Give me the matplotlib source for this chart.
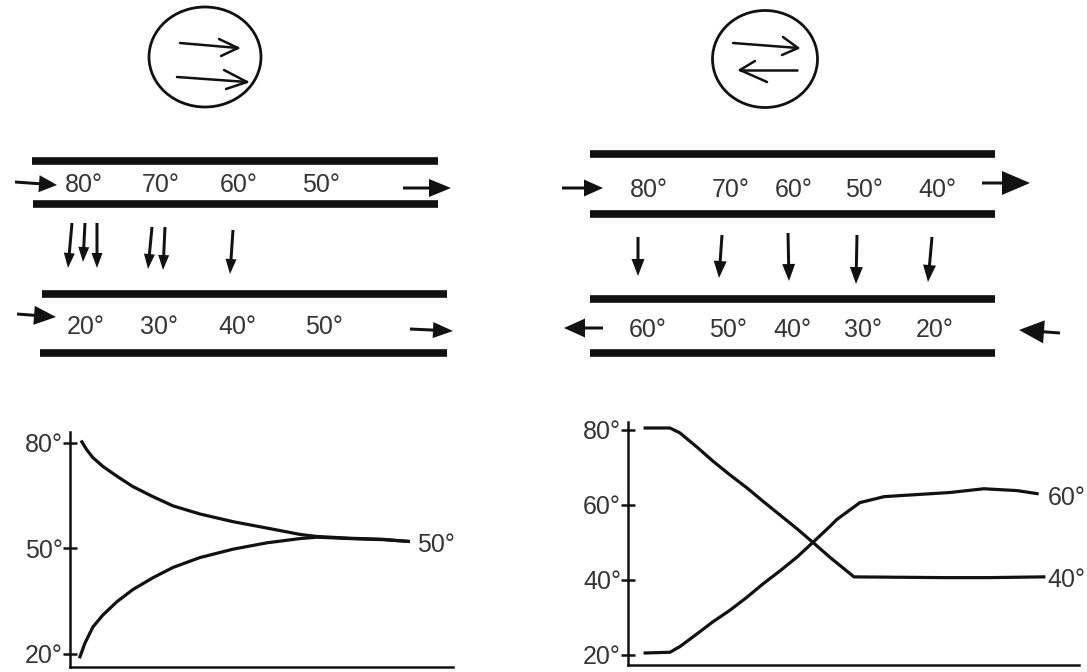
import matplotlib
matplotlib.use("Agg")
import matplotlib.pyplot as plt
from matplotlib.patches import Ellipse

plt.rcParams['font.family'] = ['Liberation Sans', 'DejaVu Sans']

# ---------------- data ----------------
# concurrent (left) tube temperatures
left_top_temps = ["80°", "70°", "60°", "50°"]
left_bottom_temps = ["20°", "30°", "40°", "50°"]
# countercurrent (right) tube temperatures
right_top_temps = ["80°", "70°", "60°", "50°", "40°"]
right_bottom_temps = ["60°", "50°", "40°", "30°", "20°"]

# left graph: concurrent exchange curves (position along tube, temperature)
left_pos_hot = [3.1, 4.4, 6.0, 8.6, 12.3, 16.4, 21.7, 26.9, 33.9, 42.6, 51.4, 60.0, 64.5, 73.1, 81.7, 88.3]
left_hot = [80.3, 78.0, 75.8, 73.3, 70.5, 67.6, 64.7, 62.1, 59.8, 57.6, 55.8, 54.0, 53.4, 52.9, 52.6, 52.0]
left_pos_cold = [2.6, 3.9, 6.0, 8.6, 12.3, 16.4, 21.7, 26.9, 33.9, 42.6, 51.4, 60.0, 64.5, 73.1, 81.7, 88.3]
left_cold = [19.2, 23.1, 27.7, 31.1, 34.9, 38.3, 41.7, 44.6, 47.4, 49.8, 51.6, 52.8, 53.2, 52.8, 52.5, 52.0]
left_ticks = [20, 50, 80]
left_end_label = "50°"

# right graph: countercurrent exchange curves
right_pos_hot = [3.8, 9.3, 11.5, 15.3, 18.8, 22.6, 26.4, 29.9, 33.7, 37.5, 41.0, 44.8, 50.1, 60.0, 70.0, 80.0, 92.2]
right_hot = [80.5, 80.5, 79.2, 75.4, 71.7, 68.0, 64.5, 61.0, 57.3, 53.6, 50.0, 46.0, 40.8, 40.7, 40.6, 40.6, 40.8]
right_pos_cold = [3.8, 9.3, 11.5, 15.3, 18.8, 22.6, 26.4, 29.9, 33.7, 37.5, 41.0, 44.8, 46.3, 51.4, 56.8, 71.4, 78.9, 86.3, 90.7]
right_cold = [20.5, 20.7, 22.2, 25.6, 28.8, 31.9, 35.4, 38.9, 42.4, 46.1, 50.0, 54.3, 56.1, 60.6, 62.2, 63.3, 64.3, 63.8, 63.0]
right_ticks = [20, 40, 60, 80]
right_end_labels = ["60°", "40°"]

# ---------------- layout ----------------
W, H = 1087, 672
INK = '#111111'
TXT = '#353535'
FS = 18

fig = plt.figure(figsize=(W / 100, H / 100), dpi=100)
ax0 = fig.add_axes([0, 0, 1, 1])
ax0.set_xlim(0, W)
ax0.set_ylim(H, 0)
ax0.axis('off')


def seg(p, q, lw=1.8):
    ax0.plot([p[0], q[0]], [p[1], q[1]], color=INK, lw=lw, solid_capstyle='round')


def arrow(tail, tip, hw=17, hl=18, w=3):
    ax0.arrow(tail[0], tail[1], tip[0] - tail[0], tip[1] - tail[1], width=w,
              head_width=hw, head_length=hl, length_includes_head=True,
              color=INK, lw=0)


def open_arrow(tail, tip, up, down, lw=1.8):
    seg(tail, tip, lw)
    seg(up, tip, lw)
    seg(down, tip, lw)


# symbol circles
ax0.add_patch(Ellipse((205, 57), 112, 100, fill=False, lw=2.0, ec=INK))
open_arrow((180, 43), (238, 48), (219, 39), (221, 56))
open_arrow((177, 77), (247, 82), (224, 70), (226, 89))
ax0.add_patch(Ellipse((765, 59), 105, 97, fill=False, lw=2.0, ec=INK))
open_arrow((733, 43), (798, 48), (783, 37), (782, 55))
open_arrow((797, 70), (740, 70), (755, 61), (767, 82))

# tubes (left)
for (x0, x1, y) in [(32, 438, 161), (33, 438, 204), (42, 447, 294), (40, 447, 353)]:
    ax0.plot([x0, x1], [y, y], color=INK, lw=5.5, solid_capstyle='butt')
# tubes (right)
for (x0, x1, y) in [(590, 995, 154), (590, 995, 214), (590, 995, 299), (590, 995, 353)]:
    ax0.plot([x0, x1], [y, y], color=INK, lw=5.5, solid_capstyle='butt')

# tube labels
for lab, x in zip(left_top_temps, [84, 161, 239, 321]):
    ax0.text(x, 185, lab, fontsize=FS, color=TXT, ha='center', va='center')
for lab, x in zip(left_bottom_temps, [86, 159, 237, 324]):
    ax0.text(x, 327, lab, fontsize=FS, color=TXT, ha='center', va='center')
for lab, x in zip(right_top_temps, [649, 731, 794, 864, 937]):
    ax0.text(x, 190, lab, fontsize=FS, color=TXT, ha='center', va='center')
for lab, x in zip(right_bottom_temps, [648, 728, 792, 863, 935]):
    ax0.text(x, 330, lab, fontsize=FS, color=TXT, ha='center', va='center')

# flow arrows (left)
arrow((15, 182), (57, 185))
arrow((403, 188), (451, 188), hw=18, hl=22)
arrow((17, 314), (56, 317), hw=19, hl=22)
arrow((410, 329), (453, 331), hw=16, hl=20)
# flow arrows (right)
arrow((562, 188), (603, 188), hw=17, hl=19)
arrow((982, 183), (1030, 183), hw=24, hl=28)
arrow((603, 328), (564, 328), hw=19, hl=21)
arrow((1060, 333), (1019, 330), hw=23, hl=25)

# transfer arrows (left)
for (xt, yt, xb, yb) in [(72, 223, 68, 268), (85, 223, 83, 262), (97, 223, 97, 268),
                         (152, 227, 148, 269), (165, 227, 163, 270), (233, 230, 230, 274)]:
    arrow((xt, yt), (xb, yb), hw=11, hl=15, w=3)
# transfer arrows (right)
for (xt, yt, xb, yb) in [(638, 237, 638, 276), (722, 235, 719, 278), (788, 233, 789, 281),
                         (857, 235, 856, 284), (932, 237, 928, 282)]:
    arrow((xt, yt), (xb, yb), hw=13, hl=17, w=3)


# ---------------- graphs ----------------
def style_graph(ax, ticks):
    for s in ['top', 'right']:
        ax.spines[s].set_visible(False)
    for s in ['left', 'bottom']:
        ax.spines[s].set_linewidth(1.8)
        ax.spines[s].set_color(INK)
    ax.set_xticks([])
    ax.set_yticks(ticks)
    ax.set_yticklabels([f"{t}°" for t in ticks])
    ax.tick_params(axis='y', direction='inout', length=10, width=1.8, pad=0,
                   labelsize=FS, labelcolor=TXT, color=INK)
    ax.patch.set_alpha(0)


axL = fig.add_axes([70 / W, (H - 667) / H, 383 / W, 235 / H])
axL.plot(left_pos_hot, left_hot, color=INK, lw=2.3, solid_joinstyle='round')
axL.plot(left_pos_cold, left_cold, color=INK, lw=2.3, solid_joinstyle='round')
axL.set_xlim(0, 100)
axL.set_ylim(16.3, 83.1)
style_graph(axL, left_ticks)
axL.text(90.6, 51.0, left_end_label, fontsize=FS, color=TXT, ha='left', va='center')

axR = fig.add_axes([628 / W, (H - 665) / H, 451 / W, 243 / H])
axR.plot(right_pos_hot, right_hot, color=INK, lw=2.3, solid_joinstyle='round')
axR.plot(right_pos_cold, right_cold, color=INK, lw=2.3, solid_joinstyle='round')
axR.set_xlim(0, 100)
axR.set_ylim(17.3, 82.1)
style_graph(axR, right_ticks)
axR.text(93.0, 61.9, right_end_labels[0], fontsize=FS, color=TXT, ha='left', va='center', clip_on=False)
axR.text(93.0, 40.0, right_end_labels[1], fontsize=FS, color=TXT, ha='left', va='center', clip_on=False)

fig.savefig("out.png", dpi=100)
